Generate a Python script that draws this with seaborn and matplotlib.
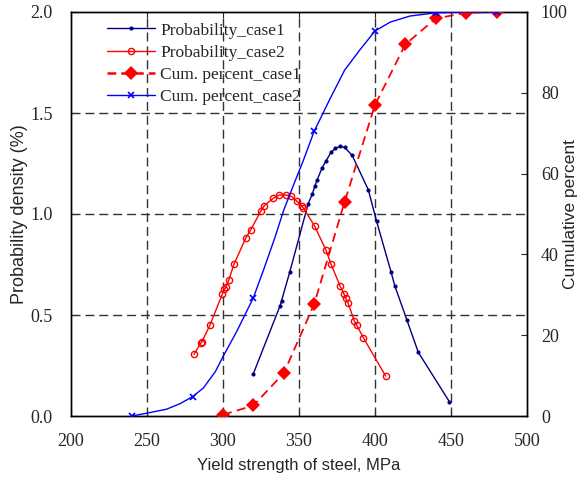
import matplotlib
matplotlib.use("Agg")
import matplotlib.pyplot as plt
import numpy as np
import pandas as pd
import seaborn as sns
from matplotlib.lines import Line2D

# ---- data ----
p1_x = [320, 337.5, 338.5, 344, 356, 358.8, 360.5, 362, 365.3, 367.6, 371, 374, 377, 380, 385,
        395.6, 401, 410.5, 413, 421, 428.5, 449]
p1_y = [0.21, 0.545, 0.57, 0.715, 1.05, 1.10, 1.14, 1.17, 1.23, 1.26, 1.305, 1.325, 1.335, 1.33, 1.29,
        1.12, 0.965, 0.715, 0.645, 0.475, 0.315, 0.07]

p2_x = [280.9, 285.3, 286, 291.4, 299.6, 300.9, 301.8, 303.9, 307.2, 314.9, 318.2, 325, 327, 333.1,
        337, 341.2, 344.7, 348.5, 351.8, 352.8, 360.3, 367.8, 371.1, 377, 379.6, 380.7, 382.2,
        386.4, 388, 392.3, 407]
p2_y = [0.305, 0.36, 0.365, 0.45, 0.604, 0.627, 0.637, 0.675, 0.751, 0.88, 0.921, 1.016, 1.04, 1.078,
        1.094, 1.094, 1.089, 1.064, 1.04, 1.031, 0.94, 0.82, 0.751, 0.644, 0.604, 0.583, 0.561,
        0.47, 0.449, 0.388, 0.198]

c1_x = [300, 320, 340, 360, 380, 400, 420, 440, 460, 480]
c1_y = [0.3, 2.6, 10.6, 27.7, 53, 77, 92, 98.4, 99.8, 100]

c2_x = [240, 250, 263, 272, 280, 287, 295, 300, 309, 320, 327, 334, 340, 346, 353, 360,
        370, 380, 390, 400, 410, 423, 440, 460, 480]
c2_y = [0, 0.7, 1.7, 3.1, 4.8, 6.9, 11, 14.7, 20.9, 29.3, 36.5, 44, 51, 56.8, 63.4, 70.5,
        78.2, 85.6, 90.6, 95.3, 97.5, 99, 99.8, 100, 100]
c2_marker_x = [240, 280, 320, 360, 400, 440, 480]

labels = ["Probability_case1", "Probability_case2", "Cum. percent_case1", "Cum. percent_case2"]

# ---- style ----
sns.set_style("ticks")
plt.rcParams["font.family"] = ["Liberation Serif", "DejaVu Serif"]
plt.rcParams["xtick.direction"] = "in"
plt.rcParams["ytick.direction"] = "in"

fig = plt.figure(figsize=(5.79, 4.86), dpi=100)
ax = fig.add_axes([71 / 579, 1 - 416 / 486, 456 / 579, 404 / 486])
ax2 = ax.twinx()

navy = "#00007f"
red = "#ff0000"
blue = "#0000ff"

d1 = pd.DataFrame({"x": p1_x, "y": p1_y})
d2 = pd.DataFrame({"x": p2_x, "y": p2_y})
d3 = pd.DataFrame({"x": c1_x, "y": c1_y})
d4 = pd.DataFrame({"x": c2_x, "y": c2_y})

sns.lineplot(data=d1, x="x", y="y", ax=ax, sort=False, estimator=None, color=navy, lw=1.0,
             marker="o", markersize=3, markeredgewidth=0, markerfacecolor=navy,
             legend=False, zorder=5)
sns.lineplot(data=d2, x="x", y="y", ax=ax, sort=False, estimator=None, color=red, lw=1.0,
             marker="o", markersize=4.5, markerfacecolor="none", markeredgecolor=red,
             markeredgewidth=1.0, legend=False, zorder=5)
sns.lineplot(data=d3, x="x", y="y", ax=ax2, sort=False, estimator=None, color=red, lw=1.3,
             linestyle=(0, (5, 3)), marker="D", markersize=7, markeredgewidth=0,
             markerfacecolor=red, legend=False, zorder=5)
mk_idx = [c2_x.index(v) for v in c2_marker_x]
sns.lineplot(data=d4, x="x", y="y", ax=ax2, sort=False, estimator=None, color=blue, lw=1.0,
             marker="x", markersize=5, markeredgewidth=1.2, markeredgecolor=blue,
             markevery=mk_idx, legend=False, zorder=6)

# axes limits/ticks
ax.set_xlim(200, 500)
ax.set_ylim(0, 2.0)
ax2.set_ylim(0, 100)
ax.set_xticks([200, 250, 300, 350, 400, 450, 500])
ax.set_yticks([0.0, 0.5, 1.0, 1.5, 2.0])
ax.set_yticklabels(["0.0", "0.5", "1.0", "1.5", "2.0"])
ax2.set_yticks([0, 20, 40, 60, 80, 100])

# dashed grid
for gx in [250, 300, 350, 400, 450]:
    ax.axvline(gx, color="#333333", lw=1.0, linestyle=(0, (6.5, 3.5)), zorder=1)
for gy in [0.5, 1.0, 1.5]:
    ax.axhline(gy, color="#333333", lw=1.0, linestyle=(0, (6.5, 3.5)), zorder=1)

ax.tick_params(axis="both", labelsize=13, length=4, width=0.8, top=True, right=False)
ax.tick_params(axis="x", pad=12)
ax.tick_params(axis="y", pad=13)
ax2.tick_params(axis="y", labelsize=13, length=4, width=0.8, pad=10)
for a in (ax, ax2):
    for s in a.spines.values():
        s.set_linewidth(1.0)
        s.set_color("black")
        s.set_visible(True)

sans = ["Liberation Sans", "DejaVu Sans"]
ax.set_xlabel("Yield strength of steel, MPa", family=sans, fontsize=12, labelpad=6)
ax.set_ylabel("Probability density (%)", family=sans, fontsize=13, labelpad=2)
ax2.set_ylabel("Cumulative percent", family=sans, fontsize=12.5)
ax2.yaxis.set_label_coords((563 - 71) / 456, 0.5)

# legend
handles = [
    Line2D([], [], color=navy, lw=1.0, marker="o", markersize=3, markeredgewidth=0),
    Line2D([], [], color=red, lw=1.0, marker="o", markersize=4.5, markerfacecolor="none",
           markeredgewidth=1.0),
    Line2D([], [], color=red, lw=1.8, linestyle=(0, (3.5, 2)), marker="D", markersize=7,
           markeredgewidth=0),
    Line2D([], [], color=blue, lw=1.0, marker="x", markersize=5, markeredgewidth=1.2),
]
ax2.legend(handles, labels, loc="upper left", bbox_to_anchor=(0.057, 1.0), frameon=False,
           fontsize=12.5, handlelength=2.75, handletextpad=0.3, labelspacing=0.35,
           borderaxespad=0.2)

fig.savefig("out.png", dpi=100)
